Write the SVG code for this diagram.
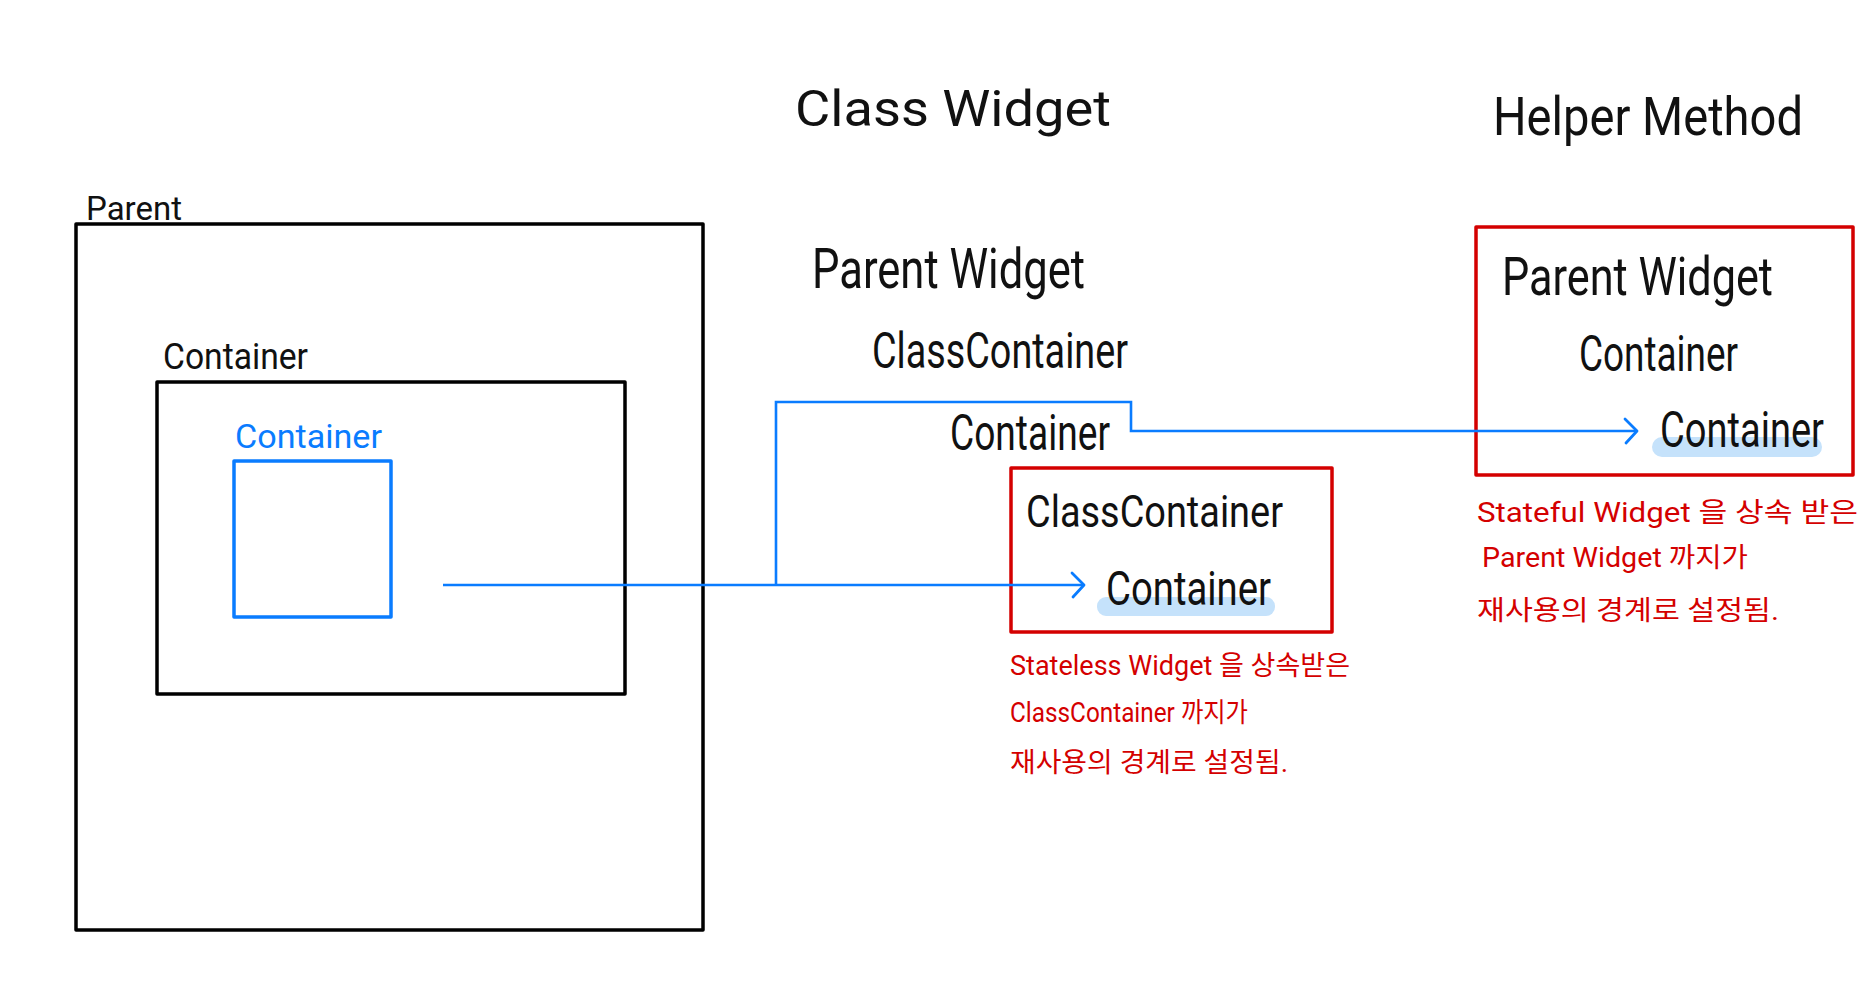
<svg xmlns="http://www.w3.org/2000/svg" width="1868" height="999" viewBox="0 0 1868 999">
<defs>
<style>
text{font-family:Roboto,"Noto Sans","Noto Sans CJK KR",sans-serif;fill:#111}
.box{fill:none;stroke:#000;stroke-width:3.5;stroke-linejoin:round}
.rbox{fill:none;stroke:#d40000;stroke-width:3.5;stroke-linejoin:round}
.bbox{fill:none;stroke:#0a7cff;stroke-width:3.5;stroke-linejoin:round}
.conn{fill:none;stroke:#0a7cff;stroke-width:2.6}
.hl{fill:#c5e2fb}
.note{fill:#d40000;font-size:27px;font-family:Roboto,"Noto Sans CJK KR",sans-serif}
.blue{fill:#0a7cff}
</style>
<marker id="arrow" markerUnits="userSpaceOnUse" markerWidth="30" markerHeight="30" viewBox="-16 -15 20 30" refX="0" refY="0" orient="auto">
<path d="M-12,-12 L0,0 L-11,12" fill="none" stroke="#0a7cff" stroke-width="2.8" stroke-linecap="round" stroke-linejoin="round"/>
</marker>
</defs>
<rect width="1868" height="999" fill="#fff"/>

<g id="title-class-widget">
<text x="795" y="126" font-size="50" textLength="316" lengthAdjust="spacingAndGlyphs">Class  Widget</text>
</g>
<g id="title-helper-method">
<text x="1493" y="135" font-size="54" textLength="310" lengthAdjust="spacingAndGlyphs">Helper  Method</text>
</g>

<g id="parent-box">
<rect class="box" x="76" y="224" width="627" height="706"/>
<text x="86" y="220" font-size="34" textLength="96" lengthAdjust="spacingAndGlyphs">Parent</text>
</g>
<g id="container-box">
<rect class="box" x="157" y="382" width="468" height="312"/>
<text x="163" y="369" font-size="36" textLength="145" lengthAdjust="spacingAndGlyphs">Container</text>
</g>
<g id="blue-container">
<rect class="bbox" x="234" y="461" width="157" height="156"/>
<text class="blue" x="235" y="448" font-size="34" textLength="147" lengthAdjust="spacingAndGlyphs">Container</text>
</g>

<g id="class-widget-tree">
<text x="812" y="288" font-size="56" textLength="273" lengthAdjust="spacingAndGlyphs">Parent Widget</text>
<text x="872" y="368" font-size="50" textLength="256" lengthAdjust="spacingAndGlyphs">ClassContainer</text>
<text x="950" y="450" font-size="50" textLength="160" lengthAdjust="spacingAndGlyphs">Container</text>
</g>

<g id="class-container-box">
<rect class="rbox" x="1011" y="468" width="321" height="164"/>
<text x="1026" y="527" font-size="44" textLength="257" lengthAdjust="spacingAndGlyphs">ClassContainer</text>
<rect class="hl" x="1097" y="597" width="178" height="19" rx="9"/>
<text x="1106" y="605" font-size="48" textLength="165" lengthAdjust="spacingAndGlyphs">Container</text>
</g>
<g id="stateless-note">
<text class="note" x="1010" y="675" textLength="340" lengthAdjust="spacingAndGlyphs">Stateless Widget 을 상속받은</text>
<text class="note" x="1010" y="722" textLength="238" lengthAdjust="spacingAndGlyphs">ClassContainer 까지가</text>
<text class="note" x="1010" y="772" textLength="278" lengthAdjust="spacingAndGlyphs">재사용의 경계로 설정됨.</text>
</g>

<g id="helper-method-box">
<rect class="rbox" x="1476" y="227" width="377" height="248"/>
<text x="1502" y="295" font-size="54" textLength="271" lengthAdjust="spacingAndGlyphs">Parent Widget</text>
<text x="1579" y="371" font-size="50" textLength="159" lengthAdjust="spacingAndGlyphs">Container</text>
<rect class="hl" x="1652" y="437" width="170" height="20" rx="10"/>
<text x="1660" y="447" font-size="50" textLength="164" lengthAdjust="spacingAndGlyphs">Container</text>
</g>
<g id="stateful-note">
<text class="note" x="1477" y="522" textLength="381" lengthAdjust="spacingAndGlyphs">Stateful Widget 을 상속 받은</text>
<text class="note" x="1482" y="567" textLength="266" lengthAdjust="spacingAndGlyphs">Parent Widget 까지가</text>
<text class="note" x="1477" y="620" textLength="302" lengthAdjust="spacingAndGlyphs">재사용의 경계로 설정됨.</text>
</g>

<g id="connectors">
<path class="conn" d="M443,585 H1084" marker-end="url(#arrow)"/>
<path class="conn" d="M776,585 V402 H1131 V431 H1637" marker-end="url(#arrow)"/>
</g>
</svg>
